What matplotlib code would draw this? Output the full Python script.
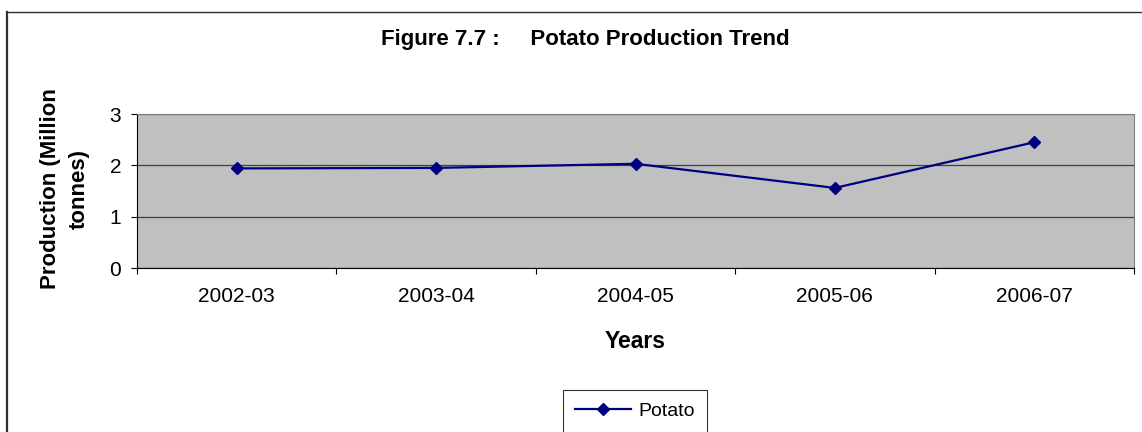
import matplotlib.pyplot as plt
from matplotlib.lines import Line2D
import numpy as np

plt.rcParams['font.family'] = ['Liberation Sans', 'DejaVu Sans']

# dados
anos = ['2002-03', '2003-04', '2004-05', '2005-06', '2006-07']
potato = [1.94, 1.95, 2.03, 1.56, 2.45]

W, H = 1142, 432
fig = plt.figure(figsize=(W / 100, H / 100), dpi=100)
ax = fig.add_axes([137 / W, 1 - 268 / H, (1134 - 137) / W, (268 - 114) / H])

x = np.arange(len(anos))
ax.plot(x, potato, color='#000080', linewidth=1.6, marker='D', markersize=6.5,
        label='Potato', zorder=3)

ax.set_facecolor('#C0C0C0')
ax.set_xlim(-0.5, len(anos) - 0.5)
ax.set_ylim(0, 3)
ax.set_yticks([0, 1, 2, 3])
ax.yaxis.grid(True, color='#404040', linewidth=0.9)
ax.set_axisbelow(True)

# ticks do eixo x nas divisas das categorias
ax.set_xticks(np.arange(-0.5, len(anos), 1.0))
ax.set_xticklabels([])
ax.set_xticks(x, minor=True)
ax.set_xticklabels(anos, minor=True)
ax.tick_params(axis='x', which='minor', length=0, pad=14, labelsize=15)
ax.tick_params(axis='x', which='major', length=4.5, direction='out', color='black')
ax.tick_params(axis='y', length=4.5, direction='out', labelsize=15, pad=7)

for s in ['top', 'right']:
    ax.spines[s].set_color('#808080')
for s in ['left', 'bottom']:
    ax.spines[s].set_color('black')

ax.set_xlabel('Years', fontsize=16.5, fontweight='bold')
ax.xaxis.set_label_coords(0.5, -(341 - 268) / 154, transform=ax.transAxes)
ax.xaxis.label.set_va('center')
ax.set_ylabel('Production (Million\ntonnes)', fontsize=16, fontweight='bold',
              linespacing=1.5)
ax.yaxis.set_label_coords((65 - 137) / 997, 0.516)
ax.yaxis.label.set_va('center')

fig.text(585 / W, 1 - 40 / H, 'Figure 7.7 :     Potato Production Trend',
         ha='center', va='center', fontsize=16, fontweight='bold')

leg = fig.legend(loc='upper center', bbox_to_anchor=(635 / W, 1 - 390 / H),
                 frameon=True, fancybox=False, edgecolor='black', fontsize=14,
                 handlelength=2.85, borderpad=0.65, handletextpad=0.4,
                 borderaxespad=0)
leg.get_frame().set_linewidth(0.8)

# moldura externa (topo e esquerda)
fig.add_artist(Line2D([7 / W, 1], [1 - 12 / H, 1 - 12 / H], transform=fig.transFigure,
                      color='#303030', linewidth=1.0))
fig.add_artist(Line2D([7 / W, 7 / W], [0, 1 - 12 / H], transform=fig.transFigure,
                      color='#303030', linewidth=1.6))

fig.savefig('out.png', dpi=100)
